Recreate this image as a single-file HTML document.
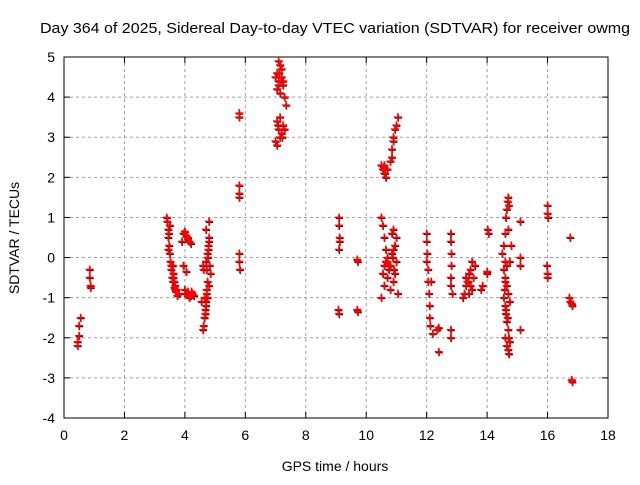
<!DOCTYPE html>
<html><head><meta charset="utf-8"><style>
body{margin:0;background:#fff;}
svg text{font-family:"Liberation Sans",sans-serif;font-size:14px;fill:#000;}
</style></head><body>
<svg id="chart" width="640" height="480" xmlns="http://www.w3.org/2000/svg">
<rect x="0" y="0" width="640" height="480" fill="#fff"/>
<g id="grid"></g><g id="axes"></g><g id="marks"></g>
<text x="40" y="33" textLength="590" lengthAdjust="spacingAndGlyphs" style="font-size:15px">Day 364 of 2025, Sidereal Day-to-day VTEC variation (SDTVAR) for receiver owmg</text>
<text x="335" y="471" text-anchor="middle">GPS time / hours</text>
<text transform="translate(19,238) rotate(-90)" text-anchor="middle">SDTVAR / TECUs</text>
</svg>
<script>
const xTicks=[0,2,4,6,8,10,12,14,16,18];
const yTicks=[-4,-3,-2,-1,0,1,2,3,4,5];
const hours=[0.45,0.45,0.5,0.5,0.55,0.85,0.85,0.88,0.88,
3.4,3.42,3.45,3.45,3.47,3.48,3.5,3.5,3.52,3.55,3.58,3.6,3.62,3.65,3.68,3.7,3.75,3.8,3.45,3.55,3.65,3.72,3.6,3.62,3.68,
3.9,3.95,4.0,4.05,4.1,4.15,3.95,4.05,4.0,4.05,4.1,4.15,4.2,4.25,4.3,4.1,4.2,4.0,4.12,4.22,
4.6,4.62,4.65,4.68,4.7,4.72,4.75,4.72,4.7,4.75,4.78,4.8,4.8,4.82,4.85,4.8,4.75,4.7,4.65,4.6,4.55,4.62,4.7,4.78,4.68,4.72,4.76,4.8,
5.8,5.8,5.8,5.8,5.8,5.8,5.8,5.82,
7.0,7.05,7.1,7.15,7.2,7.25,7.05,7.1,7.2,7.15,7.1,7.25,7.3,7.0,7.05,7.1,7.15,7.2,7.25,7.3,7.05,7.15,7.35,7.12,7.18,7.22,7.08,
9.1,9.1,9.12,9.12,9.1,9.08,9.1,9.7,9.72,9.7,9.72,
10.5,10.55,10.6,10.65,10.7,10.6,10.8,10.85,10.9,10.95,11.0,11.05,10.9,10.85,10.62,10.58,
10.5,10.5,10.55,10.6,10.6,10.65,10.7,10.7,10.75,10.8,10.85,10.9,10.95,11.0,10.9,10.8,10.85,10.95,11.0,10.6,10.7,10.9,11.05,10.55,10.65,10.75,10.88,10.92,
12.0,12.0,12.02,12.05,12.05,12.08,12.1,12.1,12.12,12.0,12.15,12.2,12.4,12.4,12.35,
12.8,12.8,12.82,12.82,12.8,12.8,12.85,12.8,12.8,
13.2,13.25,13.3,13.35,13.4,13.45,13.5,13.5,13.55,13.3,13.4,13.6,13.8,13.85,14.0,14.02,14.05,14.0,13.38,13.45,
14.5,14.55,14.6,14.62,14.65,14.68,14.7,14.72,14.6,14.55,14.6,14.65,14.7,14.75,14.6,14.62,14.65,14.7,14.55,14.6,14.65,14.7,14.72,14.6,14.65,14.75,14.8,14.7,14.75,14.62,14.68,14.72,14.58,
15.1,15.1,15.1,15.1,16.0,16.0,16.02,15.98,16.0,16.0,
16.75,16.72,16.75,16.8,16.82,16.8,16.82];
const values=[-2.2,-2.1,-1.95,-1.7,-1.5,-0.3,-0.5,-0.7,-0.75,
1.0,0.9,0.7,0.5,0.6,0.3,0.8,0.1,-0.1,-0.3,-0.5,-0.6,-0.4,-0.75,-0.7,-0.85,-0.95,-0.9,0.2,-0.2,-0.6,-0.8,-0.2,-0.5,-0.8,
0.4,0.6,0.65,0.55,0.45,0.4,-0.2,-0.35,-0.8,-0.9,-0.85,-1.0,-0.95,-0.9,-0.95,0.5,0.35,-0.9,-0.95,-0.85,
-1.8,-1.7,-1.5,-1.3,-1.1,-0.9,-0.6,-0.3,-0.1,0.1,0.3,0.5,0.9,-0.2,-0.4,-0.7,-1.0,-1.2,-1.0,-0.2,-1.1,-0.3,0.7,0.2,-1.4,-0.8,0.0,0.4,
3.6,3.5,1.8,1.6,1.5,0.1,-0.1,-0.3,
4.5,4.6,4.4,4.8,4.7,4.3,4.2,4.9,4.5,4.1,4.3,4.4,4.0,2.9,3.4,3.2,3.5,3.1,3.3,3.2,2.8,3.0,3.8,4.6,4.4,3.0,3.3,
1.0,0.8,0.5,0.4,0.2,-1.3,-1.4,-0.05,-0.1,-1.3,-1.35,
2.3,2.2,2.1,2.0,2.2,2.3,2.4,2.7,2.9,3.2,3.3,3.5,3.0,2.5,2.1,2.25,
1.0,-1.0,0.8,0.5,-0.2,0.2,-0.5,0.0,-0.3,-0.8,0.6,0.7,0.3,-0.1,-0.6,-0.2,0.1,-0.4,0.5,-0.7,-0.1,0.2,-0.9,-0.4,-0.1,-0.2,0.0,-0.3,
0.6,0.4,0.1,-0.3,-0.6,-0.9,-1.2,-1.5,-1.7,-0.1,-0.6,-1.9,-2.35,-1.75,-1.8,
0.6,0.4,0.1,-0.2,-0.5,-0.7,-0.9,-1.8,-2.0,
-1.0,-0.9,-0.7,-0.6,-0.4,-0.3,-0.1,-0.8,-0.5,-0.5,-0.9,-0.2,-0.8,-0.7,-0.4,0.7,0.6,-0.35,-0.6,-0.7,
0.1,0.3,0.6,1.0,1.2,1.4,1.5,1.3,-0.1,-0.3,-0.5,-0.7,-0.9,-1.1,-1.2,-1.4,-1.6,-1.8,-1.0,-2.0,-2.2,-2.3,-2.4,-0.6,-0.2,-0.1,0.3,0.7,-2.1,-1.3,-1.5,-2.0,-0.8,
0.9,0.0,-0.2,-1.8,1.3,1.1,1.0,-0.2,-0.4,-0.5,
0.5,-1.0,-1.1,-1.15,-1.2,-3.05,-3.1];
const X0=64,X1=608,Y0=418,Y1=57;
const sx=h=>X0+(h-0)/(18-0)*(X1-X0);
const sy=v=>Y0-(v+4)/(5+4)*(Y0-Y1);
const NS="http://www.w3.org/2000/svg";
function mk(tag,attrs,parent){const e=document.createElementNS(NS,tag);for(const k in attrs)e.setAttribute(k,attrs[k]);parent.appendChild(e);return e;}
const grid=document.getElementById('grid'),axes=document.getElementById('axes'),marks=document.getElementById('marks');
xTicks.forEach(t=>{const x=sx(t);
 if(t>0&&t<18){const g=mk('line',{x1:x,x2:x,y1:Y1,y2:Y0,stroke:'#a0a0a0','stroke-dasharray':'3,3'},grid);
 
 }
 mk('line',{x1:x,x2:x,y1:Y0,y2:Y0-6,stroke:'#000'},axes);
 mk('line',{x1:x,x2:x,y1:Y1,y2:Y1+6,stroke:'#000'},axes);
 const l=mk('text',{x:x,y:Y0+22,'text-anchor':'middle'},axes);l.textContent=t;
 
 });
yTicks.forEach(t=>{const y=sy(t);
 if(t>-4&&t<5){const g=mk('line',{x1:X0,x2:X1,y1:y,y2:y,stroke:'#a0a0a0','stroke-dasharray':'3,3'},grid);
 
 }
 mk('line',{x1:X0,x2:X0+6,y1:y,y2:y,stroke:'#000'},axes);
 mk('line',{x1:X1,x2:X1-6,y1:y,y2:y,stroke:'#000'},axes);
 const l=mk('text',{x:X0-9,y:y+5,'text-anchor':'end'},axes);l.textContent=t;
 
 });
const frame=mk('rect',{x:X0,y:Y1,width:X1-X0,height:Y0-Y1,fill:'none',stroke:'#000'},axes);


hours.forEach((h,i)=>{const x=sx(h),y=sy(values[i]);
 const bk=mk('path',{d:`M${x-3} ${y+1}h7M${x+0.5} ${y-2.5}v7`,stroke:'#000','stroke-width':1},marks);
 
 });
hours.forEach((h,i)=>{const x=sx(h),y=sy(values[i]);
 const p=mk('path',{d:`M${x-4} ${y}h8M${x} ${y-4}v8`,stroke:'#f00','stroke-width':1.6},marks);
 
 });
</script>
</body></html>
